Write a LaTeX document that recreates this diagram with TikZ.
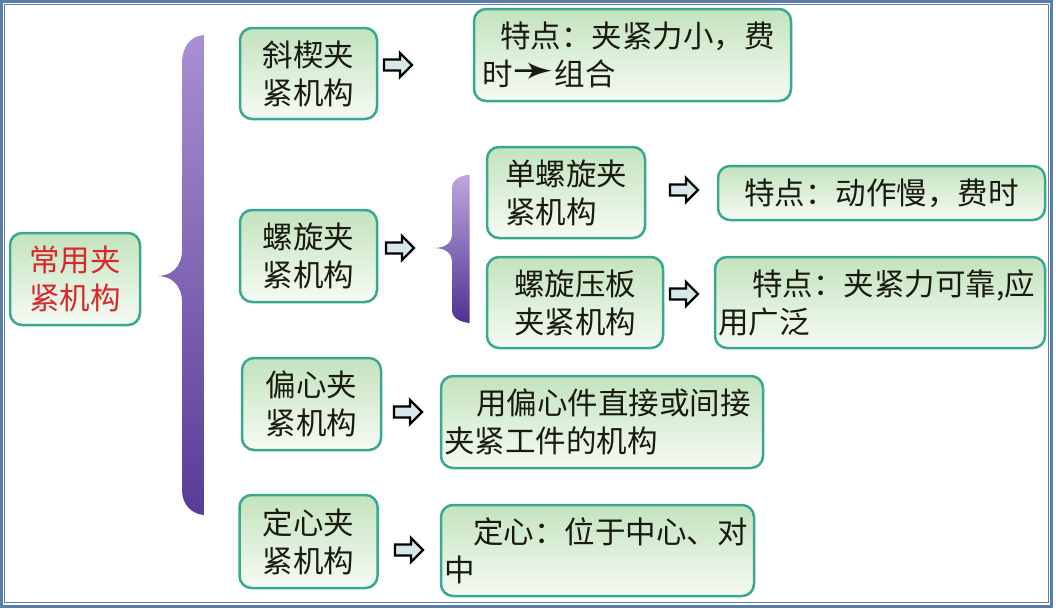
\documentclass[tikz,border=0pt]{standalone}
\usepackage{fontspec}
\newfontfamily\cjk{Noto Sans CJK SC}
\newfontfamily\dejavu{DejaVu Sans}
\definecolor{boxline}{HTML}{3AA890}
\definecolor{boxtop}{HTML}{C3E3BE}
\definecolor{boxbot}{HTML}{F6FBF4}
\definecolor{txt}{HTML}{1A1A10}
\definecolor{titlered}{HTML}{D8282E}
\definecolor{framecol}{HTML}{5A7DAA}
\definecolor{arrowfill}{HTML}{D8E8EA}
\definecolor{bracetop}{HTML}{A890D2}
\definecolor{bracebot}{HTML}{583C96}
\definecolor{sbracetop}{HTML}{BCA6DE}
\definecolor{sbracebot}{HTML}{4E3490}
\tikzset{
  box/.style={draw=boxline, line width=2.5pt, rounded corners=12pt,
    top color=boxtop, bottom color=boxbot, inner sep=0pt,
    font=\cjk\fontsize{30.5}{38}\selectfont, text=txt},
  hollowarrow/.pic={\draw[line width=2.4pt, fill=arrowfill, line join=miter]
    (-14,-5.5) -- (2,-5.5) -- (2,-12) -- (14,0) -- (2,12) -- (2,5.5) -- (-14,5.5) -- cycle;},
  framebox/.style={draw=framecol}
}
\begin{document}
\begin{tikzpicture}[x=1pt,y=-1pt]
\useasboundingbox (0,0) rectangle (1056,608);
% frame
\draw[framebox, line width=2.5pt] (1.25,1.25) rectangle (1051.5,606.5);
\draw[framebox, line width=1pt] (4.5,4.5) rectangle (1048,602.5);
% big brace
\shade[top color=bracetop, bottom color=bracebot]
  (204,35) -- (204,515) .. controls (192,514) and (182,505) .. (182,490)
  -- (182,302) .. controls (182,284) and (170,276) .. (158,276)
  .. controls (170,276) and (182,268) .. (182,250)
  -- (182,64) .. controls (182,47) and (190,36) .. (204,35) -- cycle;
% small brace
\shade[top color=sbracetop, bottom color=sbracebot]
  (469.5,175) -- (469.5,323) .. controls (460,322) and (452,318) .. (452,310)
  -- (452,262) .. controls (452,252) and (444,248) .. (434,248)
  .. controls (444,248) and (452,244) .. (452,234)
  -- (452,188) .. controls (452,180) and (460,175) .. (469.5,175) -- cycle;
% root
\node[box, text=titlered, align=center, minimum width=130, minimum height=92] (root) at (75,279) {常用夹\\紧机构};
% level 1
\node[box, align=center, minimum width=137, minimum height=91] (xie) at (308.5,73.5) {斜楔夹\\紧机构};
\node[box, align=center, minimum width=137, minimum height=92] (luo) at (308.5,256) {螺旋夹\\紧机构};
\node[box, align=center, minimum width=139, minimum height=92] (pian) at (311.5,404) {偏心夹\\紧机构};
\node[box, align=center, minimum width=138, minimum height=93] (ding) at (308.5,541.5) {定心夹\\紧机构};
% level 2 (screw)
\node[box, align=left, text width=122, minimum width=158, minimum height=91] (dan) at (566,192.5) {单螺旋夹\\紧机构};
\node[box, align=center, minimum width=176, minimum height=91] (yaban) at (575,302.5) {螺旋压板\\夹紧机构};
% descriptions
\node[box, align=left, text width=301, minimum width=317, minimum height=92] (dxie) at (632.5,55)
  {\hspace*{18pt}特点：夹紧力小，费\\时\scalebox{1.65}[1.5]{\dejavu ➛}组合};
\node[box, align=center, minimum width=327, minimum height=54] (ddan) at (881.5,193) {特点：动作慢，费时};
\node[box, align=left, text width=324, minimum width=330, minimum height=91] (dyaban) at (880,302.5)
  {\hspace*{34pt}特点：夹紧力可靠,应\\用广泛};
\node[box, align=left, text width=316, minimum width=322, minimum height=92] (dpian) at (602,422)
  {\hspace*{32pt}用偏心件直接或间接\\夹紧工件的机构};
\node[box, align=left, text width=307, minimum width=313, minimum height=91] (dding) at (597.5,550.5)
  {\hspace*{29pt}定心：位于中心、对\\中};
% hollow arrows
\pic at (398,65) {hollowarrow};
\pic at (400,248) {hollowarrow};
\pic at (684,190) {hollowarrow};
\pic at (684,294) {hollowarrow};
\pic at (408,412) {hollowarrow};
\pic at (409,550) {hollowarrow};
\end{tikzpicture}
\end{document}
